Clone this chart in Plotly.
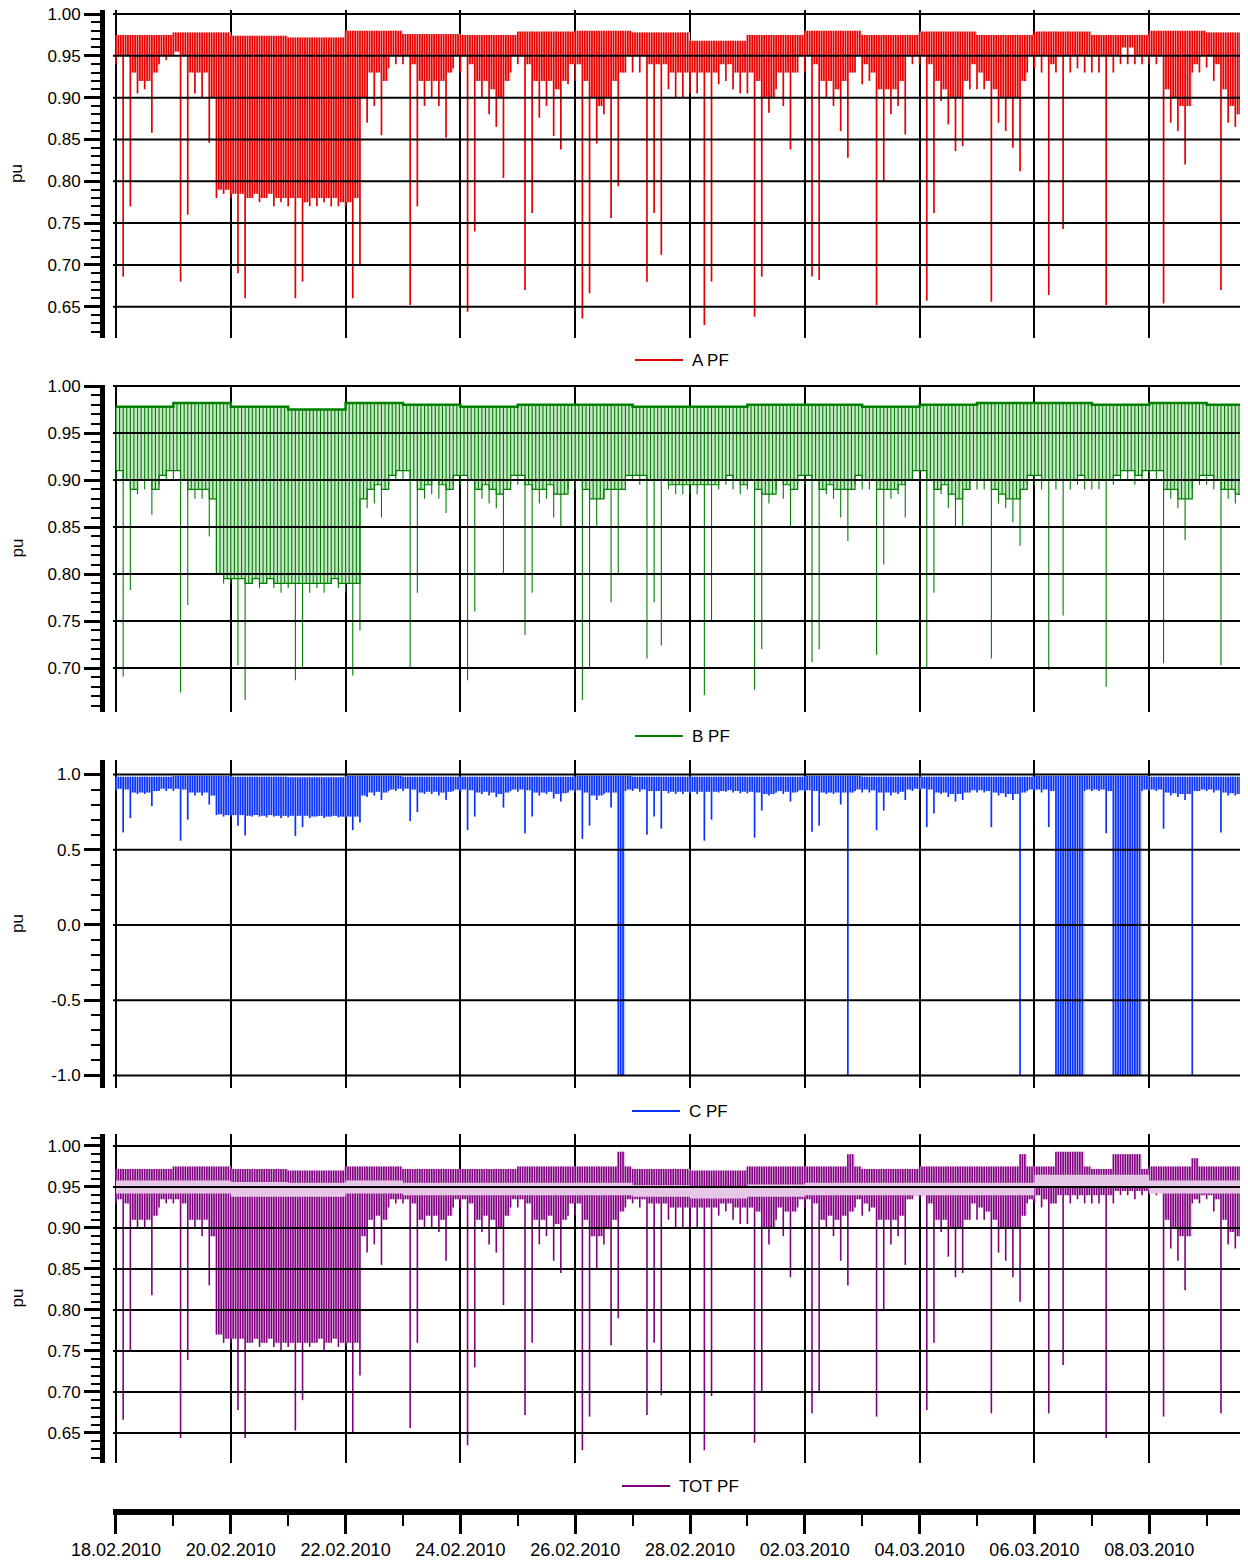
import pandas as pd
import plotly.graph_objects as go

# binned power-factor readings, 3-hour bins from 18.02.2010 00:00
start = pd.Timestamp("2010-02-18 00:00")
bin_hours = 3
bins_per_day = 8
x_range = ["2010-02-17 22:45", "2010-03-09 17:18"]

# ---- phase A ----
a_hi = [0.975, 0.978, 0.974, 0.972, 0.980, 0.976, 0.975, 0.979, 0.980, 0.978,
        0.968, 0.975, 0.980, 0.975, 0.979, 0.975, 0.979, 0.975, 0.980, 0.978]
a_lo = [
    0.94, 0.686, 0.77, 0.905, 0.91, 0.858, 0.94, 0.945,
    0.95, 0.68, 0.76, 0.905, 0.90, 0.846, 0.78, 0.785,
    0.78, 0.69, 0.66, 0.78, 0.775, 0.78, 0.77, 0.775,
    0.77, 0.66, 0.68, 0.77, 0.77, 0.775, 0.77, 0.77,
    0.77, 0.66, 0.70, 0.87, 0.89, 0.855, 0.935, 0.94,
    0.94, 0.652, 0.77, 0.89, 0.90, 0.89, 0.852, 0.935,
    0.93, 0.644, 0.74, 0.90, 0.88, 0.865, 0.804, 0.93,
    0.94, 0.67, 0.762, 0.876, 0.89, 0.854, 0.838, 0.916,
    0.92, 0.636, 0.666, 0.845, 0.88, 0.756, 0.794, 0.93,
    0.93, 0.93, 0.68, 0.762, 0.712, 0.91, 0.90, 0.90,
    0.905, 0.905, 0.628, 0.68, 0.916, 0.92, 0.91, 0.905,
    0.905, 0.638, 0.686, 0.882, 0.91, 0.89, 0.838, 0.93,
    0.93, 0.686, 0.682, 0.90, 0.89, 0.86, 0.828, 0.93,
    0.916, 0.92, 0.652, 0.80, 0.88, 0.89, 0.856, 0.94,
    0.94, 0.657, 0.762, 0.896, 0.868, 0.836, 0.842, 0.91,
    0.91, 0.91, 0.656, 0.87, 0.86, 0.84, 0.812, 0.93,
    0.935, 0.93, 0.664, 0.93, 0.743, 0.93, 0.935, 0.93,
    0.93, 0.93, 0.652, 0.93, 0.94, 0.94, 0.94, 0.94,
    0.94, 0.94, 0.654, 0.87, 0.86, 0.82, 0.93, 0.93,
    0.936, 0.92, 0.67, 0.87, 0.865, 0.86,
]
a_mid = [
    0.95, 0.95, 0.93, 0.92, 0.92, 0.93, 0.95, 0.95,
    0.955, 0.95, 0.93, 0.93, 0.93, 0.90, 0.79, 0.79,
    0.785, 0.785, 0.78, 0.785, 0.78, 0.785, 0.78, 0.78,
    0.78, 0.78, 0.775, 0.78, 0.78, 0.78, 0.78, 0.775,
    0.775, 0.78, 0.90, 0.93, 0.93, 0.92, 0.95, 0.95,
    0.95, 0.94, 0.92, 0.92, 0.92, 0.92, 0.93, 0.95,
    0.95, 0.94, 0.92, 0.92, 0.91, 0.90, 0.92, 0.95,
    0.95, 0.94, 0.92, 0.92, 0.92, 0.91, 0.92, 0.94,
    0.94, 0.92, 0.90, 0.89, 0.90, 0.92, 0.93, 0.95,
    0.95, 0.95, 0.94, 0.94, 0.94, 0.93, 0.93, 0.93,
    0.93, 0.93, 0.93, 0.93, 0.94, 0.94, 0.93, 0.93,
    0.93, 0.92, 0.90, 0.90, 0.93, 0.93, 0.93, 0.95,
    0.95, 0.94, 0.92, 0.92, 0.91, 0.92, 0.93, 0.95,
    0.94, 0.93, 0.91, 0.91, 0.91, 0.92, 0.95, 0.95,
    0.95, 0.94, 0.92, 0.91, 0.90, 0.90, 0.92, 0.94,
    0.93, 0.92, 0.91, 0.90, 0.90, 0.90, 0.92, 0.95,
    0.95, 0.95, 0.94, 0.95, 0.95, 0.95, 0.95, 0.95,
    0.95, 0.95, 0.95, 0.95, 0.96, 0.96, 0.95, 0.95,
    0.95, 0.95, 0.91, 0.90, 0.89, 0.89, 0.94, 0.95,
    0.95, 0.94, 0.91, 0.89, 0.88, 0.88,
]

# ---- phase B ----
b_hi = [0.978, 0.982, 0.978, 0.975, 0.982, 0.980, 0.978, 0.980, 0.980, 0.978,
        0.978, 0.980, 0.980, 0.978, 0.980, 0.982, 0.982, 0.980, 0.982, 0.980]
b_lo = [
    0.90, 0.691, 0.783, 0.885, 0.89, 0.863, 0.895, 0.90,
    0.90, 0.674, 0.767, 0.88, 0.88, 0.84, 0.80, 0.79,
    0.79, 0.703, 0.666, 0.79, 0.785, 0.79, 0.785, 0.78,
    0.785, 0.687, 0.70, 0.78, 0.785, 0.78, 0.79, 0.785,
    0.78, 0.692, 0.74, 0.87, 0.875, 0.86, 0.895, 0.90,
    0.90, 0.70, 0.78, 0.88, 0.885, 0.88, 0.865, 0.895,
    0.895, 0.687, 0.76, 0.88, 0.875, 0.87, 0.80, 0.895,
    0.895, 0.735, 0.78, 0.875, 0.88, 0.86, 0.85, 0.89,
    0.89, 0.666, 0.70, 0.85, 0.88, 0.77, 0.80, 0.895,
    0.90, 0.895, 0.71, 0.77, 0.724, 0.89, 0.885, 0.885,
    0.885, 0.885, 0.671, 0.75, 0.89, 0.895, 0.89, 0.885,
    0.89, 0.677, 0.72, 0.875, 0.89, 0.88, 0.85, 0.895,
    0.895, 0.706, 0.72, 0.885, 0.88, 0.86, 0.835, 0.895,
    0.89, 0.89, 0.714, 0.81, 0.88, 0.885, 0.86, 0.90,
    0.90, 0.70, 0.78, 0.885, 0.87, 0.85, 0.85, 0.89,
    0.89, 0.89, 0.71, 0.875, 0.87, 0.855, 0.83, 0.895,
    0.895, 0.89, 0.698, 0.89, 0.756, 0.89, 0.895, 0.89,
    0.89, 0.89, 0.68, 0.895, 0.90, 0.90, 0.895, 0.90,
    0.90, 0.90, 0.705, 0.88, 0.87, 0.836, 0.89, 0.895,
    0.895, 0.89, 0.703, 0.88, 0.875, 0.87,
]
b_mid = [
    0.91, 0.90, 0.89, 0.90, 0.90, 0.89, 0.905, 0.91,
    0.91, 0.90, 0.89, 0.89, 0.89, 0.88, 0.80, 0.795,
    0.795, 0.795, 0.79, 0.795, 0.79, 0.795, 0.79, 0.79,
    0.79, 0.79, 0.79, 0.79, 0.79, 0.79, 0.795, 0.79,
    0.79, 0.79, 0.88, 0.89, 0.895, 0.89, 0.905, 0.91,
    0.91, 0.90, 0.89, 0.895, 0.90, 0.895, 0.89, 0.905,
    0.905, 0.90, 0.89, 0.895, 0.89, 0.885, 0.89, 0.905,
    0.905, 0.895, 0.89, 0.89, 0.895, 0.885, 0.885, 0.90,
    0.90, 0.89, 0.88, 0.88, 0.89, 0.89, 0.89, 0.905,
    0.905, 0.905, 0.90, 0.90, 0.90, 0.895, 0.895, 0.895,
    0.895, 0.895, 0.895, 0.895, 0.90, 0.905, 0.90, 0.895,
    0.90, 0.89, 0.885, 0.885, 0.90, 0.895, 0.89, 0.905,
    0.905, 0.90, 0.89, 0.895, 0.89, 0.89, 0.89, 0.905,
    0.90, 0.90, 0.89, 0.89, 0.89, 0.895, 0.90, 0.91,
    0.91, 0.90, 0.89, 0.895, 0.885, 0.88, 0.89, 0.90,
    0.90, 0.90, 0.89, 0.885, 0.88, 0.88, 0.89, 0.905,
    0.905, 0.90, 0.90, 0.90, 0.90, 0.90, 0.905, 0.90,
    0.90, 0.90, 0.90, 0.905, 0.91, 0.91, 0.905, 0.91,
    0.91, 0.91, 0.89, 0.89, 0.88, 0.88, 0.90, 0.905,
    0.905, 0.90, 0.89, 0.89, 0.885, 0.88,
]

# ---- phase C ----
c_hi = [0.985, 0.990, 0.985, 0.982, 0.990, 0.985, 0.985, 0.985, 0.990, 0.985,
        0.985, 0.985, 0.990, 0.985, 0.985, 0.985, 0.990, 0.990, 0.985, 0.985]
c_lo = [
    0.89, 0.615, 0.71, 0.87, 0.87, 0.79, 0.89, 0.89,
    0.89, 0.56, 0.70, 0.86, 0.86, 0.80, 0.73, 0.72,
    0.72, 0.66, 0.595, 0.72, 0.72, 0.715, 0.72, 0.71,
    0.715, 0.59, 0.65, 0.71, 0.72, 0.71, 0.72, 0.715,
    0.71, 0.63, 0.68, 0.85, 0.86, 0.83, 0.89, 0.89,
    0.89, 0.69, 0.75, 0.87, 0.87, 0.86, 0.83, 0.89,
    0.885, 0.63, 0.72, 0.87, 0.86, 0.85, 0.78, 0.89,
    0.885, 0.61, 0.72, 0.86, 0.87, 0.84, 0.82, 0.88,
    0.88, 0.572, 0.66, 0.83, 0.87, 0.78, -1.0, 0.89,
    0.89, 0.885, 0.60, 0.72, 0.64, 0.875, 0.87, 0.87,
    0.87, 0.87, 0.56, 0.70, 0.88, 0.885, 0.88, 0.875,
    0.875, 0.58, 0.76, 0.86, 0.88, 0.87, 0.82, 0.885,
    0.885, 0.62, 0.66, 0.87, 0.87, 0.80, -1.0, 0.89,
    0.88, 0.88, 0.63, 0.76, 0.86, 0.87, 0.83, 0.89,
    0.89, 0.65, 0.74, 0.87, 0.85, 0.82, 0.83, 0.88,
    0.88, 0.88, 0.65, 0.86, 0.85, 0.83, -1.0, 0.89,
    0.89, 0.88, 0.65, -1.0, -1.0, -1.0, -1.0, 0.89,
    0.89, 0.89, 0.61, -1.0, -1.0, -1.0, -1.0, 0.89,
    0.89, 0.89, 0.64, 0.86, 0.85, 0.83, -1.0, 0.89,
    0.89, 0.88, 0.615, 0.86, 0.86, 0.85,
]
c_mid = [
    0.905, 0.90, 0.88, 0.88, 0.88, 0.89, 0.905, 0.905,
    0.905, 0.90, 0.88, 0.88, 0.88, 0.86, 0.735, 0.73,
    0.73, 0.73, 0.725, 0.73, 0.725, 0.73, 0.725, 0.725,
    0.725, 0.725, 0.725, 0.72, 0.725, 0.72, 0.725, 0.72,
    0.72, 0.72, 0.86, 0.88, 0.885, 0.88, 0.90, 0.905,
    0.905, 0.90, 0.88, 0.885, 0.885, 0.88, 0.885, 0.90,
    0.90, 0.895, 0.88, 0.885, 0.88, 0.87, 0.88, 0.90,
    0.90, 0.895, 0.88, 0.88, 0.885, 0.87, 0.875, 0.895,
    0.895, 0.88, 0.86, 0.86, 0.88, 0.88, -1.0, 0.90,
    0.905, 0.90, 0.89, 0.89, 0.89, 0.885, 0.885, 0.885,
    0.885, 0.885, 0.885, 0.885, 0.89, 0.895, 0.89, 0.885,
    0.885, 0.88, 0.87, 0.87, 0.89, 0.885, 0.88, 0.895,
    0.895, 0.89, 0.88, 0.88, 0.88, 0.88, 0.88, 0.90,
    0.90, 0.895, 0.88, 0.88, 0.88, 0.885, 0.90, 0.905,
    0.905, 0.90, 0.88, 0.88, 0.87, 0.87, 0.88, 0.895,
    0.895, 0.89, 0.88, 0.875, 0.87, 0.87, 0.88, 0.90,
    0.90, 0.90, 0.89, -1.0, -1.0, -1.0, -1.0, 0.90,
    0.90, 0.90, 0.89, -1.0, -1.0, -1.0, -1.0, 0.90,
    0.90, 0.90, 0.88, 0.875, 0.87, 0.87, 0.89, 0.90,
    0.90, 0.895, 0.88, 0.875, 0.87, 0.87,
]

# ---- total ----
tot_hi = [0.972, 0.975, 0.972, 0.970, 0.975, 0.972, 0.972, 0.975, 0.975, 0.972,
          0.970, 0.975, 0.975, 0.972, 0.975, 0.975, 0.975, 0.972, 0.975, 0.975]
tot_peak_bins = [70, 102, 126, 131, 132, 133, 134, 139, 140, 141, 142, 150]
tot_peak_vals = [0.993, 0.99, 0.99, 0.993, 0.993, 0.993, 0.993, 0.99, 0.99, 0.99, 0.99, 0.985]
tot_lo = [
    0.93, 0.666, 0.75, 0.90, 0.90, 0.818, 0.925, 0.93,
    0.93, 0.644, 0.739, 0.90, 0.89, 0.83, 0.77, 0.76,
    0.76, 0.678, 0.644, 0.76, 0.755, 0.76, 0.755, 0.75,
    0.755, 0.653, 0.69, 0.755, 0.76, 0.75, 0.76, 0.755,
    0.755, 0.65, 0.72, 0.87, 0.88, 0.855, 0.925, 0.93,
    0.93, 0.656, 0.76, 0.90, 0.90, 0.895, 0.86, 0.925,
    0.925, 0.635, 0.73, 0.895, 0.88, 0.87, 0.806, 0.925,
    0.925, 0.672, 0.76, 0.88, 0.89, 0.86, 0.845, 0.915,
    0.915, 0.629, 0.67, 0.85, 0.88, 0.757, 0.79, 0.925,
    0.93, 0.925, 0.672, 0.76, 0.696, 0.91, 0.90, 0.90,
    0.90, 0.90, 0.629, 0.695, 0.915, 0.92, 0.91, 0.905,
    0.905, 0.638, 0.70, 0.88, 0.91, 0.89, 0.84, 0.925,
    0.925, 0.674, 0.70, 0.90, 0.89, 0.86, 0.83, 0.925,
    0.915, 0.92, 0.67, 0.80, 0.88, 0.89, 0.855, 0.935,
    0.935, 0.678, 0.76, 0.895, 0.865, 0.84, 0.845, 0.91,
    0.91, 0.91, 0.674, 0.87, 0.86, 0.84, 0.81, 0.93,
    0.93, 0.925, 0.674, 0.93, 0.733, 0.93, 0.935, 0.93,
    0.93, 0.93, 0.644, 0.93, 0.94, 0.94, 0.935, 0.94,
    0.94, 0.94, 0.67, 0.875, 0.86, 0.824, 0.93, 0.93,
    0.935, 0.92, 0.674, 0.88, 0.875, 0.87,
]
tot_mid = [
    0.935, 0.93, 0.91, 0.91, 0.91, 0.915, 0.935, 0.935,
    0.935, 0.93, 0.91, 0.91, 0.91, 0.89, 0.77, 0.765,
    0.765, 0.765, 0.76, 0.765, 0.76, 0.765, 0.76, 0.76,
    0.76, 0.76, 0.76, 0.76, 0.765, 0.76, 0.765, 0.76,
    0.76, 0.76, 0.89, 0.91, 0.915, 0.91, 0.935, 0.935,
    0.935, 0.93, 0.91, 0.915, 0.915, 0.91, 0.915, 0.935,
    0.935, 0.93, 0.91, 0.915, 0.91, 0.90, 0.915, 0.935,
    0.935, 0.93, 0.91, 0.91, 0.915, 0.905, 0.91, 0.93,
    0.93, 0.91, 0.89, 0.89, 0.90, 0.91, 0.92, 0.935,
    0.935, 0.935, 0.93, 0.93, 0.93, 0.925, 0.925, 0.925,
    0.925, 0.925, 0.925, 0.925, 0.93, 0.93, 0.925, 0.925,
    0.925, 0.92, 0.90, 0.90, 0.925, 0.92, 0.92, 0.935,
    0.935, 0.93, 0.91, 0.915, 0.91, 0.915, 0.92, 0.935,
    0.93, 0.925, 0.91, 0.91, 0.91, 0.915, 0.935, 0.94,
    0.94, 0.93, 0.91, 0.91, 0.90, 0.90, 0.91, 0.93,
    0.925, 0.92, 0.91, 0.90, 0.90, 0.90, 0.915, 0.935,
    0.94, 0.935, 0.93, 0.94, 0.94, 0.94, 0.94, 0.94,
    0.94, 0.94, 0.94, 0.945, 0.945, 0.945, 0.945, 0.945,
    0.945, 0.945, 0.91, 0.90, 0.89, 0.89, 0.935, 0.94,
    0.94, 0.935, 0.91, 0.895, 0.89, 0.885,
]
# light band seen inside the purple mass (per day)
tot_band_hi = [0.958, 0.958, 0.956, 0.955, 0.958, 0.955, 0.955, 0.955, 0.955, 0.952,
               0.950, 0.953, 0.955, 0.955, 0.955, 0.955, 0.965, 0.965, 0.958, 0.958]
tot_band_lo = [0.942, 0.942, 0.938, 0.938, 0.942, 0.940, 0.940, 0.940, 0.940, 0.938,
               0.936, 0.938, 0.940, 0.940, 0.940, 0.940, 0.950, 0.950, 0.942, 0.942]

pf_ticks = [0.65, 0.70, 0.75, 0.80, 0.85, 0.90, 0.95, 1.00]
b_ticks = [0.70, 0.75, 0.80, 0.85, 0.90, 0.95, 1.00]
c_ticks = [-1.0, -0.5, 0.0, 0.5, 1.0]

# the page body adds an 8 px margin, so the figure is 8 px smaller and all
# layout positions below are given in window pixels minus that offset
OFF = 8
W, H = 1248 - OFF, 1562 - OFF
FONT = "Liberation Sans, Arial, sans-serif"


def fx(px):
    return (px - OFF) / W


def fy(py):
    return 1 - (py - OFF) / H


def bin_tops(hi, n, peak_bins=(), peak_vals=()):
    tops = [hi[i // bins_per_day] for i in range(n)]
    for b, v in zip(peak_bins, peak_vals):
        tops[b] = v
    return tops


def comb(tops, lo, mid, per_bin):
    # vertical strokes inside each bin: first one to the bin minimum, the rest to the typical low
    xs, ys = [], []
    for i in range(len(lo)):
        t0 = start + pd.Timedelta(hours=bin_hours * i)
        for j in range(per_bin):
            t = t0 + pd.Timedelta(hours=bin_hours * j / per_bin)
            xs += [t, t, None]
            ys += [tops[i], lo[i] if j == 0 else mid[i], None]
    return xs, ys


panels = [
    dict(name="A PF", color="#e60000", light="#f8c8c8", hi=a_hi, lo=a_lo, mid=a_mid,
         peaks=([], []), band=None, per_bin=3, width=1.7, edge_top=0, edge_low=0,
         ticks=pf_ticks, fmt="{:.2f}", minor=0.01,
         rng=[0.6126, 1.0048], top=10, bottom=338, leg_y=360, leg_x=635),
    dict(name="B PF", color="#008000", light="#c8e6c8", hi=b_hi, lo=b_lo, mid=b_mid,
         peaks=([], []), band=None, per_bin=2, width=1.1, edge_top=2.5, edge_low=1.2,
         ticks=b_ticks, fmt="{:.2f}", minor=0.01,
         rng=[0.6532, 1.0011], top=385, bottom=712, leg_y=736, leg_x=635),
    dict(name="C PF", color="#0a32ff", light="#c8d2f8", hi=c_hi, lo=c_lo, mid=c_mid,
         peaks=([], []), band=None, per_bin=3, width=1.7, edge_top=0, edge_low=0,
         ticks=c_ticks, fmt="{:.1f}", minor=0.1,
         rng=[-1.083, 1.096], top=760, bottom=1088, leg_y=1111, leg_x=632),
    dict(name="TOT PF", color="#800080", light="#e6c8e6", hi=tot_hi, lo=tot_lo, mid=tot_mid,
         peaks=(tot_peak_bins, tot_peak_vals), band=(tot_band_hi, tot_band_lo, 0.7),
         per_bin=3, width=1.6, edge_top=0, edge_low=0, ticks=pf_ticks, fmt="{:.2f}",
         minor=0.01, rng=[0.6134, 1.0146], top=1134, bottom=1463, leg_y=1486, leg_x=622),
]

fig = go.Figure()
shapes = []
annotations = []
day_ms = 86400000

for k, p in enumerate(panels, start=1):
    xa = "x" if k == 1 else f"x{k}"
    ya = "y" if k == 1 else f"y{k}"
    n = len(p["lo"])
    tops = bin_tops(p["hi"], n, *p["peaks"])
    edges = [start + pd.Timedelta(hours=bin_hours * i) for i in range(n + 1)]

    # light fill between the upper envelope and the typical low
    fig.add_trace(go.Scatter(x=edges, y=tops + tops[-1:], mode="lines",
                             line=dict(width=p["edge_top"], shape="hv", color=p["color"]),
                             hoverinfo="skip", xaxis=xa, yaxis=ya, showlegend=False))
    fig.add_trace(go.Scatter(x=edges, y=p["mid"] + p["mid"][-1:], mode="lines",
                             line=dict(width=p["edge_low"], shape="hv", color=p["color"]),
                             fill="tonexty", fillcolor=p["light"], hoverinfo="skip",
                             xaxis=xa, yaxis=ya, showlegend=False))
    cx, cy = comb(tops, p["lo"], p["mid"], p["per_bin"])
    fig.add_trace(go.Scatter(x=cx, y=cy, mode="lines", name=p["name"],
                             line=dict(color=p["color"], width=p["width"]),
                             xaxis=xa, yaxis=ya, showlegend=False))

    if p["band"] is not None:
        band_hi, band_lo, alpha = p["band"]
        day_edges = [start + pd.Timedelta(days=d) for d in range(len(band_hi) + 1)]
        fig.add_trace(go.Scatter(x=day_edges, y=band_hi + band_hi[-1:], mode="lines",
                                 line=dict(width=0, shape="hv"), hoverinfo="skip",
                                 xaxis=xa, yaxis=ya, showlegend=False))
        fig.add_trace(go.Scatter(x=day_edges, y=band_lo + band_lo[-1:], mode="lines",
                                 line=dict(width=0, shape="hv"), fill="tonexty",
                                 fillcolor=p["light"], opacity=alpha, hoverinfo="skip",
                                 xaxis=xa, yaxis=ya, showlegend=False))

    xaxis = dict(domain=[fx(113), 1], range=x_range, type="date", automargin=False,
                 showgrid=True, gridcolor="black", gridwidth=2,
                 tick0="2010-02-18", dtick=2 * day_ms, zeroline=False)
    if k < 4:
        xaxis.update(anchor=ya, showticklabels=False, ticks="", showline=False)
    else:
        xaxis.update(anchor="free", position=fy(1512), showline=True, linewidth=6,
                     linecolor="black", ticks="outside", ticklen=19, tickwidth=2.5,
                     tickcolor="black", tickformat="%d.%m.%Y", ticklabelstandoff=0,
                     ticklabeloverflow="allow",
                     tickfont=dict(family=FONT, size=18, color="black"),
                     minor=dict(ticks="outside", ticklen=11, tickwidth=2,
                                tickcolor="black", dtick=day_ms,
                                tick0="2010-02-18", showgrid=False))
    fig.update_layout({("xaxis" if k == 1 else f"xaxis{k}"): xaxis})

    yaxis = dict(domain=[fy(p["bottom"]), fy(p["top"])], range=p["rng"], automargin=False,
                 anchor="free", position=fx(102), showline=True, linewidth=5,
                 linecolor="black", ticks="outside", ticklen=16, tickwidth=2.5,
                 tickcolor="black", tickmode="array", tickvals=p["ticks"],
                 ticktext=[p["fmt"].format(v) for v in p["ticks"]],
                 ticklabeloverflow="allow",
                 tickfont=dict(family=FONT, size=17, color="black"),
                 minor=dict(ticks="outside", ticklen=9, tickwidth=2, tickcolor="black",
                            tickmode="linear", tick0=0, dtick=p["minor"], showgrid=False),
                 showgrid=False, zeroline=False)
    fig.update_layout({("yaxis" if k == 1 else f"yaxis{k}"): yaxis})

    # horizontal grid drawn above the data, as in the original
    for v in p["ticks"]:
        shapes.append(dict(type="line", xref=f"{xa} domain", yref=ya, x0=0, x1=1,
                           y0=v, y1=v, layer="above", line=dict(color="black", width=2)))

    mid_y = (p["top"] + p["bottom"]) / 2
    annotations.append(dict(text="pu", x=fx(17), y=fy(mid_y), xref="paper", yref="paper",
                            textangle=-90, showarrow=False, xanchor="center",
                            yanchor="middle", font=dict(family=FONT, size=17, color="black")))

    # legend sample under each panel
    shapes.append(dict(type="line", xref="paper", yref="paper",
                       x0=fx(p["leg_x"]), x1=fx(p["leg_x"] + 48),
                       y0=fy(p["leg_y"]), y1=fy(p["leg_y"]),
                       line=dict(color=p["color"], width=2)))
    annotations.append(dict(text=p["name"], x=fx(p["leg_x"] + 55), y=fy(p["leg_y"]),
                            xref="paper", yref="paper", showarrow=False,
                            xanchor="left", yanchor="middle",
                            font=dict(family=FONT, size=17, color="black")))

fig.update_layout(
    width=W,
    height=H,
    margin=dict(l=0, r=0, t=0, b=0, autoexpand=False),
    paper_bgcolor="white",
    plot_bgcolor="white",
    showlegend=False,
    shapes=shapes,
    annotations=annotations,
    font=dict(family=FONT, color="black"),
)

fig.write_html("out.html")
